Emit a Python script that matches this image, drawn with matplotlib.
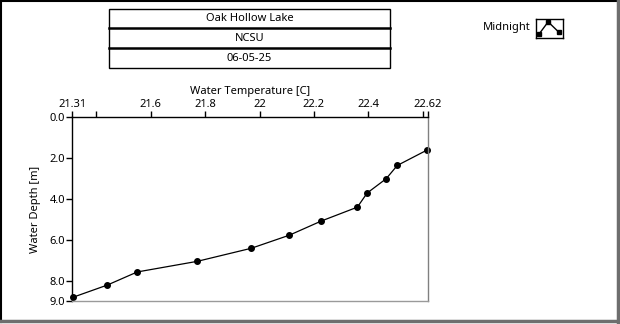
import matplotlib
matplotlib.use("Agg")
import matplotlib.pyplot as plt
from matplotlib.lines import Line2D
from matplotlib.patches import Rectangle

# profile data: temperature [C] vs depth [m]
temperature = [22.616, 22.507, 22.466, 22.396, 22.36, 22.227, 22.11, 21.97, 21.771, 21.55, 21.44, 21.313]
depth = [1.62, 2.37, 3.02, 3.72, 4.41, 5.09, 5.78, 6.42, 7.06, 7.58, 8.22, 8.82]

x_ticks = [21.31, 21.4, 21.6, 21.8, 22.0, 22.2, 22.4, 22.6, 22.62]
x_labels = ["21.31", "", "21.6", "21.8", "22", "22.2", "22.4", "", "22.62"]
y_ticks = [0, 2, 4, 6, 8, 9]

header = ["Oak Hollow Lake", "NCSU", "06-05-25"]
legend_name = "Midnight"

W, H = 620, 324
FS = 8
plt.rcParams['font.family'] = ['Noto Sans', 'DejaVu Sans']
plt.rcParams['font.size'] = FS

fig = plt.figure(figsize=(W / 100, H / 100), dpi=100)
fig.patch.set_facecolor("white")


def fx(x):
    return x / W


def fy(y):
    return 1 - y / H


# outer panel frame
fig.add_artist(Line2D([fx(0), fx(619)], [fy(1), fy(1)], color="black", lw=1.5))
fig.add_artist(Line2D([fx(1), fx(1)], [fy(0), fy(322)], color="black", lw=1.5))
fig.add_artist(Line2D([fx(618), fx(618)], [fy(0), fy(324)], color="#6e6e6e", lw=2.5))
fig.add_artist(Line2D([fx(0), fx(620)], [fy(321), fy(321)], color="#6e6e6e", lw=2.5))

# header table
bx0, bx1 = 109, 390
rows = [8.7, 28, 48, 68]
fig.add_artist(Rectangle((fx(bx0), fy(rows[-1])), fx(bx1 - bx0), (rows[-1] - rows[0]) / H,
                         fill=False, ec="black", lw=1))
for yy in rows[1:-1]:
    fig.add_artist(Line2D([fx(bx0), fx(bx1)], [fy(yy), fy(yy)], color="black", lw=1.8))
for i, txt in enumerate(header):
    fig.text(fx((bx0 + bx1) / 2), fy((rows[i] + rows[i + 1]) / 2 + 0.5), txt,
             ha="center", va="center", fontsize=FS)

# legend entry
fig.text(fx(531), fy(27.5), legend_name, ha="right", va="center", fontsize=FS)
lg = fig.add_axes([fx(536), fy(38), fx(27), 19 / H])
lg.set_xlim(0, 1)
lg.set_ylim(0, 1)
lg.plot([0.12, 0.45, 0.85], [0.22, 0.85, 0.3], color="black", lw=1,
        marker="s", ms=3.5)
lg.set_xticks([])
lg.set_yticks([])
for s in lg.spines.values():
    s.set_linewidth(1)

# main plot
ax = fig.add_axes([fx(72), fy(301), fx(356), 184 / H])
ax.plot(temperature, depth, color="black", lw=0.9, marker="o", ms=4,
        clip_on=False)
ax.set_xlim(21.31, 22.62)
ax.set_ylim(9, 0)

ax.xaxis.tick_top()
ax.xaxis.set_label_position("top")
ax.set_xticks(x_ticks)
ax.set_xticklabels(x_labels)
ax.set_yticks(y_ticks)
ax.set_yticklabels([f"{v:.1f}" for v in y_ticks])
ax.tick_params(axis="both", direction="out", length=4, width=1, pad=1,
               colors="black", labelsize=FS)
ax.set_xlabel("Water Temperature [C]", labelpad=4, fontsize=FS)
ax.set_ylabel("Water Depth [m]", labelpad=6, fontsize=FS)

ax.spines["top"].set_color("black")
ax.spines["left"].set_color("black")
ax.spines["right"].set_color("#808080")
ax.spines["bottom"].set_color("#9a9a9a")
for s in ax.spines.values():
    s.set_linewidth(1)

fig.savefig("out.png", dpi=100)
